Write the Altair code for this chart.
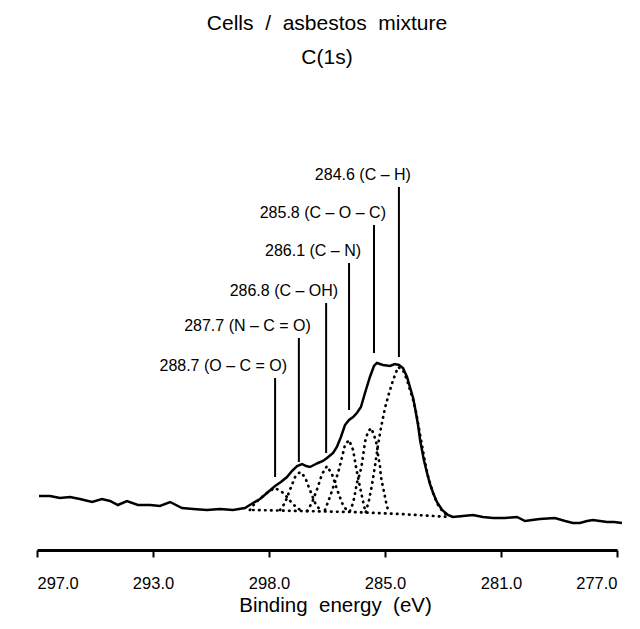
import altair as alt
import pandas as pd

# ---- measured spectrum (binding energy eV, intensity a.u.) ----
energy_main = [296.93, 296.55, 296.21, 295.86, 295.52, 295.10, 294.76, 294.48, 294.21, 293.90,
               293.52, 293.10, 292.76, 292.41, 292.00, 291.62, 291.14, 290.69, 290.24, 289.83,
               289.55, 289.31, 289.07, 288.79, 288.59, 288.38, 288.21, 288.03, 287.86, 287.72,
               287.59, 287.45, 287.31, 287.14, 287.00, 286.79, 286.66, 286.52, 286.38, 286.24,
               286.10, 285.97, 285.83, 285.69, 285.52, 285.38, 285.28, 285.07, 284.83, 284.66,
               284.52, 284.38, 284.24, 284.14, 284.03, 283.97, 283.86, 283.79, 283.66, 283.55,
               283.45, 283.34, 283.21, 283.03, 282.83, 282.66, 282.31, 281.97, 281.62, 281.28,
               280.86, 280.45, 280.17, 279.93, 279.66, 279.14, 278.79, 278.52, 278.28, 278.03,
               277.83, 277.59, 277.34, 277.10, 276.83]
intensity_main = [54, 54, 52, 53, 51, 48, 51, 49, 45, 49,
                  45, 45, 44, 48, 42, 41, 40, 41, 40, 42,
                  47, 51, 57, 64, 68, 73, 79, 84, 86, 84,
                  83, 85, 87, 89, 92, 97, 103, 113, 125, 130,
                  133, 137, 143, 157, 173, 184, 187, 185, 184, 186,
                  185, 182, 173, 163, 152, 143, 125, 110, 90, 77,
                  66, 57, 48, 40, 35, 33, 34, 35, 33, 32,
                  32, 33, 29, 30, 31, 32, 29, 27, 27, 29,
                  30, 29, 28, 28, 27]

# ---- fitted components (dotted) ----
bg_energy = [289.55, 287.93, 286.21, 284.48, 282.76]
bg_intensity = [40, 39, 38, 36, 33]

c1_energy = [289.66, 289.48, 289.24, 289.03, 288.79, 288.55, 288.38, 288.21, 288.03, 287.86]
c1_intensity = [40, 47, 53, 58, 62, 58, 53, 47, 42, 39]

c2_energy = [288.62, 288.45, 288.28, 288.10, 287.93, 287.76, 287.59, 287.41, 287.24]
c2_intensity = [40, 47, 60, 73, 78, 73, 60, 47, 40]

c3_energy = [287.69, 287.52, 287.34, 287.17, 287.00, 286.83, 286.66, 286.48, 286.31]
c3_intensity = [39, 47, 61, 76, 84, 76, 61, 47, 39]

c4_energy = [287.07, 286.90, 286.76, 286.62, 286.48, 286.38, 286.24, 286.10, 286.00, 285.90, 285.79, 285.69]
c4_intensity = [40, 53, 65, 77, 93, 105, 110, 100, 83, 68, 53, 40]

c5_energy = [286.21, 286.10, 286.03, 285.97, 285.86, 285.79, 285.69, 285.59, 285.48, 285.38,
             285.28, 285.24, 285.17, 285.14, 285.07, 285.00, 284.93, 284.83]
c5_intensity = [39, 47, 57, 67, 77, 87, 108, 118, 122, 115,
                105, 95, 83, 73, 63, 53, 43, 37]

c6_energy = [285.66, 285.55, 285.45, 285.34, 285.24, 285.14, 285.00, 284.86, 284.72, 284.55,
             284.38, 284.24, 284.14, 284.03, 283.93, 283.83, 283.72, 283.62, 283.52, 283.41,
             283.31, 283.17, 283.00, 282.83]
c6_intensity = [38, 50, 65, 85, 105, 122, 142, 157, 170, 183,
                180, 170, 160, 150, 138, 122, 104, 88, 74, 63,
                54, 45, 38, 34]

# ---- peak annotations ----
label_texts = ["284.6 (C – H)", "285.8 (C – O – C)", "286.1 (C – N)",
               "286.8 (C – OH)", "287.7 (N – C = O)", "288.7 (O – C = O)"]
label_energy = [284.52, 285.38, 286.24, 287.03, 287.97, 288.79]
label_top = [363, 325, 287, 247, 212, 172]
label_bottom = [193, 197, 140, 97, 88, 73]

# ---- axis ----
tick_values = [297, 293, 289, 285, 281, 277]
tick_labels = ["297.0", "293.0", "298.0", "285.0", "281.0", "277.0"]

label_expr = "''"
for v, l in reversed(list(zip(tick_values, tick_labels))):
    label_expr = f"datum.value == {v} ? '{l}' : ({label_expr})"

main_df = pd.DataFrame({"E": energy_main, "I": intensity_main, "idx": range(len(energy_main))})

comp_rows = []
for name, es, is_ in [("bg", bg_energy, bg_intensity), ("c1", c1_energy, c1_intensity),
                      ("c2", c2_energy, c2_intensity), ("c3", c3_energy, c3_intensity),
                      ("c4", c4_energy, c4_intensity), ("c5", c5_energy, c5_intensity),
                      ("c6", c6_energy, c6_intensity)]:
    for k, (e, i) in enumerate(zip(es, is_)):
        comp_rows.append({"series": name, "E": e, "I": i, "idx": k})
comp_df = pd.DataFrame(comp_rows)

lab_df = pd.DataFrame({"text": label_texts, "E": label_energy,
                       "top": label_top, "bottom": label_bottom})

FONT = "Liberation Sans"
NB = "\u00a0"
GAP = NB + " "

x_scale = alt.Scale(domain=[297, 277], nice=False, zero=False)
y_scale = alt.Scale(domain=[0, 400], nice=False, zero=False)

x_enc = alt.X("E:Q", scale=x_scale,
              axis=alt.Axis(values=tick_values, labelExpr=label_expr, grid=False,
                            title=f"Binding{GAP}energy{GAP}(eV)", domainColor="black", domainWidth=2.8,
                            tickColor="black", tickWidth=2, tickSize=7,
                            labelFont=FONT, labelFontSize=16.5, labelColor="black", labelPadding=18,
                            titleFont=FONT, titleFontSize=20.5, titleFontWeight="normal",
                            titleColor="black", titlePadding=4, titleX=298))

main = alt.Chart(main_df).mark_line(color="black", strokeWidth=2.5).encode(
    x=x_enc,
    y=alt.Y("I:Q", scale=y_scale, axis=None),
    order="idx:Q",
)

comps = alt.Chart(comp_df).mark_line(color="black", strokeWidth=2.7, strokeDash=[0.5, 5.5],
                                     strokeCap="round").encode(
    x=alt.X("E:Q", scale=x_scale),
    y=alt.Y("I:Q", scale=y_scale),
    detail="series:N",
    order="idx:Q",
)

rules = alt.Chart(lab_df).mark_rule(color="black", strokeWidth=2).encode(
    x=alt.X("E:Q", scale=x_scale),
    y=alt.Y("top:Q", scale=y_scale),
    y2="bottom:Q",
)

texts = alt.Chart(lab_df).mark_text(align="right", baseline="middle", dx=12, dy=-12,
                                    font=FONT, fontSize=16, color="black").encode(
    x=alt.X("E:Q", scale=x_scale),
    y=alt.Y("top:Q", scale=y_scale),
    text="text:N",
)

chart = alt.layer(main, comps, rules, texts).properties(
    width=580, height=400,
    autosize=alt.AutoSizeParams(type="none"),
    padding={"left": 29, "top": 142, "right": 15, "bottom": 71},
    title=alt.TitleParams(text=f"Cells{GAP}/{GAP}asbestos{GAP}mixture", subtitle="C(1s)",
                          anchor="middle",
                          font=FONT, fontSize=21, fontWeight="normal", color="black",
                          subtitleFont=FONT, subtitleFontSize=21, subtitleColor="black",
                          subtitlePadding=13, offset=82, dx=0),
).configure_view(stroke=None)

chart.save("out.html", embed_options={"renderer": "svg", "actions": False})
